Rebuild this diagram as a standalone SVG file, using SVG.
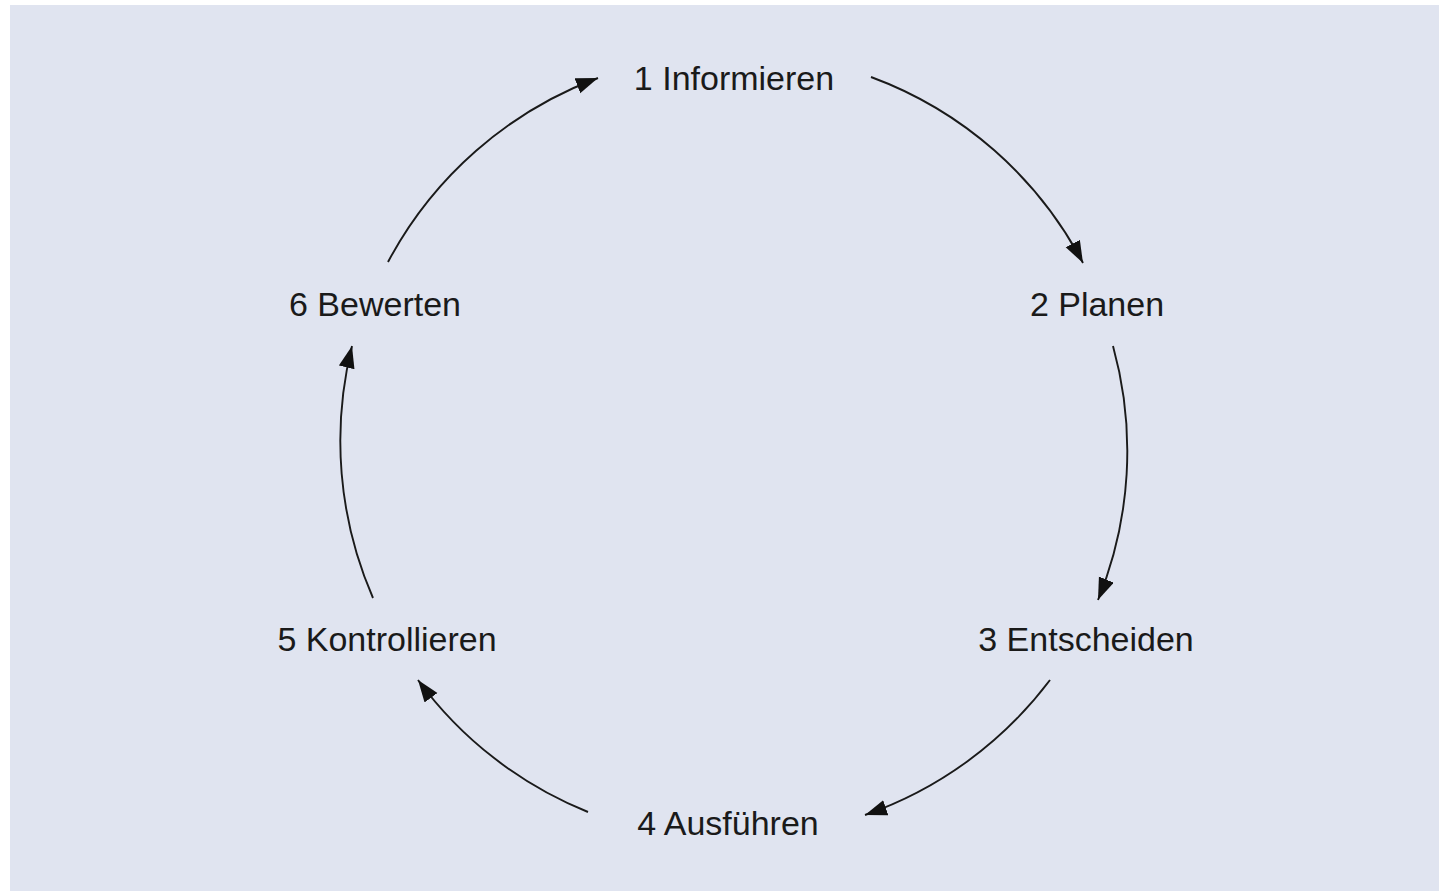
<svg xmlns="http://www.w3.org/2000/svg" width="1439" height="891" viewBox="0 0 1439 891">
<style>
.lbl{font-family:"Liberation Sans","Open Sans",sans-serif;font-size:34px;fill:#1a1a1a;text-anchor:middle}
.arc{fill:none;stroke:#1a1a1a;stroke-width:1.9}
</style>
<defs>
<marker id="ah" markerUnits="userSpaceOnUse" markerWidth="24" markerHeight="18" refX="22" refY="8" orient="auto">
<path d="M0,0 L22,8 L0,16 z" fill="#111"/>
</marker>
</defs>
<rect x="10" y="5" width="1429" height="886" fill="#e0e4f0"/>
<g id="connectors">
<path class="arc" d="M871,77 A393,393 0 0 1 1083,263" marker-end="url(#ah)"/>
<path class="arc" d="M1113,346 A393,393 0 0 1 1098,600" marker-end="url(#ah)"/>
<path class="arc" d="M1050,680 A393,393 0 0 1 865,815" marker-end="url(#ah)"/>
<path class="arc" d="M588,812 A393,393 0 0 1 418,680" marker-end="url(#ah)"/>
<path class="arc" d="M373,598 A393,393 0 0 1 352,346" marker-end="url(#ah)"/>
<path class="arc" d="M388,262 A393,393 0 0 1 598,78" marker-end="url(#ah)"/>
</g>
<g id="n1"><text class="lbl" x="734" y="90">1 Informieren</text></g>
<g id="n2"><text class="lbl" x="1097" y="316">2 Planen</text></g>
<g id="n3"><text class="lbl" x="1086" y="651">3 Entscheiden</text></g>
<g id="n4"><text class="lbl" x="728" y="835">4 Ausführen</text></g>
<g id="n5"><text class="lbl" x="387" y="651">5 Kontrollieren</text></g>
<g id="n6"><text class="lbl" x="375" y="316">6 Bewerten</text></g>
</svg>
